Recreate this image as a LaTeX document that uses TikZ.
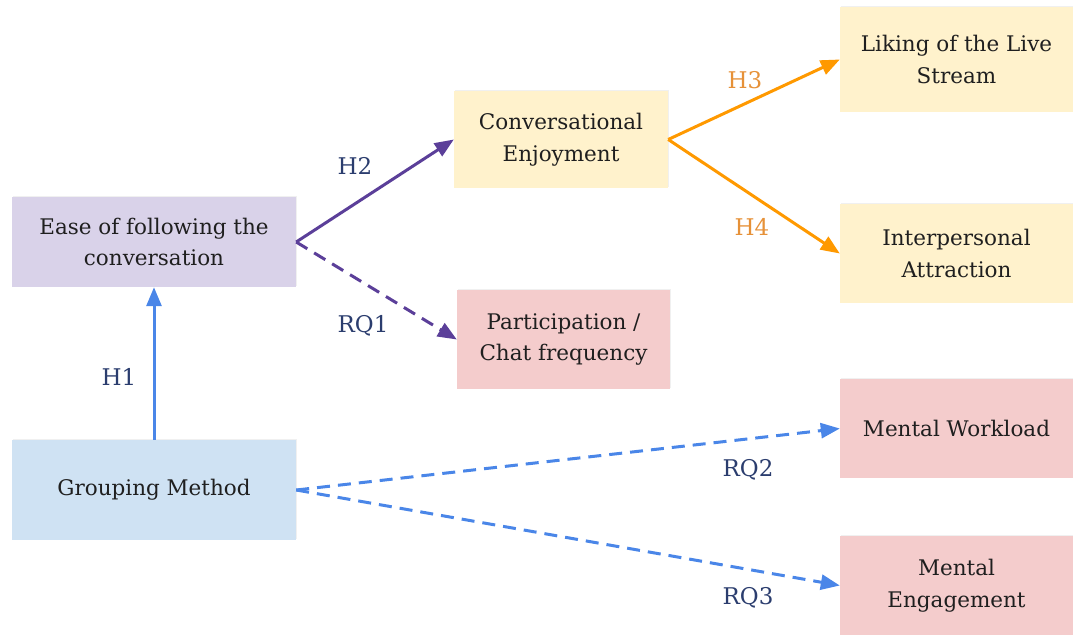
\documentclass[tikz,border=0pt]{standalone}
\usepackage{fontspec}
\setmainfont{DejaVu Serif}
\usetikzlibrary{arrows.meta,shadows}

\definecolor{lavender}{HTML}{D9D2E9}
\definecolor{paleblue}{HTML}{CFE2F3}
\definecolor{paleyellow}{HTML}{FFF2CC}
\definecolor{palepink}{HTML}{F4CCCC}
\definecolor{arrblue}{HTML}{4A86E8}
\definecolor{arrpurple}{HTML}{5B3F99}
\definecolor{arrorange}{HTML}{FF9900}
\definecolor{labnavy}{HTML}{2B3D6E}
\definecolor{laborange}{HTML}{E69138}

\tikzset{
  box/.style = {rectangle, inner sep = 0pt, align = center, text = black!88,
    font = \fontsize{21.5}{31.5}\selectfont,
    drop shadow = {opacity = 0.12, shadow xshift = 1pt, shadow yshift = 1.5pt}},
  link/.style = {line width = 3pt, -{Triangle[length = 19pt, width = 15pt]}},
  dashlink/.style = {link, dash pattern = on 13pt off 8pt},
  lab/.style = {font = \fontsize{23}{26}\selectfont, text = labnavy}
}

\begin{document}
\begin{tikzpicture}[x = 1pt, y = -1pt]
\useasboundingbox (0, 0) rectangle (1073, 635);
% boxes
\node (ease) [box, fill = lavender, minimum width = 284pt, minimum height = 90pt]
  at (154, 242) {Ease of following the\\conversation};
\node (group) [box, fill = paleblue, minimum width = 284pt, minimum height = 100pt]
  at (154, 490) {Grouping Method};
\node (enjoy) [box, fill = paleyellow, minimum width = 214pt, minimum height = 97pt]
  at (561, 139.5) {Conversational\\Enjoyment};
\node (partic) [box, fill = palepink, minimum width = 213pt, minimum height = 99pt]
  at (563.5, 339.5) {Participation /\\Chat frequency};
\node (liking) [box, fill = paleyellow, minimum width = 233pt, minimum height = 105pt]
  at (956.5, 59.5) {Liking of the Live\\Stream};
\node (attract) [box, fill = paleyellow, minimum width = 233pt, minimum height = 99pt]
  at (956.5, 253.5) {Interpersonal\\Attraction};
\node (workload) [box, fill = palepink, minimum width = 233pt, minimum height = 99pt]
  at (956.5, 428.5) {Mental Workload};
\node (engage) [box, fill = palepink, minimum width = 233pt, minimum height = 99pt]
  at (956.5, 585.5) {Mental\\Engagement};
% arrows
\draw [link, arrblue] (group.north) -- (ease.south);
\draw [link, arrpurple] (ease.east) -- (enjoy.west);
\draw [dashlink, arrpurple] (ease.east) -- (partic.west);
\draw [link, arrorange] (enjoy.east) -- (liking.west);
\draw [link, arrorange] (enjoy.east) -- (attract.west);
\draw [dashlink, arrblue] (group.east) -- (workload.west);
\draw [dashlink, arrblue] (group.east) -- (engage.west);
% labels
\node (h1) [lab] at (119, 377) {H1};
\node (h2) [lab] at (355, 166) {H2};
\node (rq1) [lab] at (363, 326) {RQ1};
\node (h3) [lab, text = laborange] at (745, 80) {H3};
\node (h4) [lab, text = laborange] at (752, 227) {H4};
\node (rq2) [lab] at (748, 470) {RQ2};
\node (rq3) [lab] at (748, 598) {RQ3};
\end{tikzpicture}
\end{document}
